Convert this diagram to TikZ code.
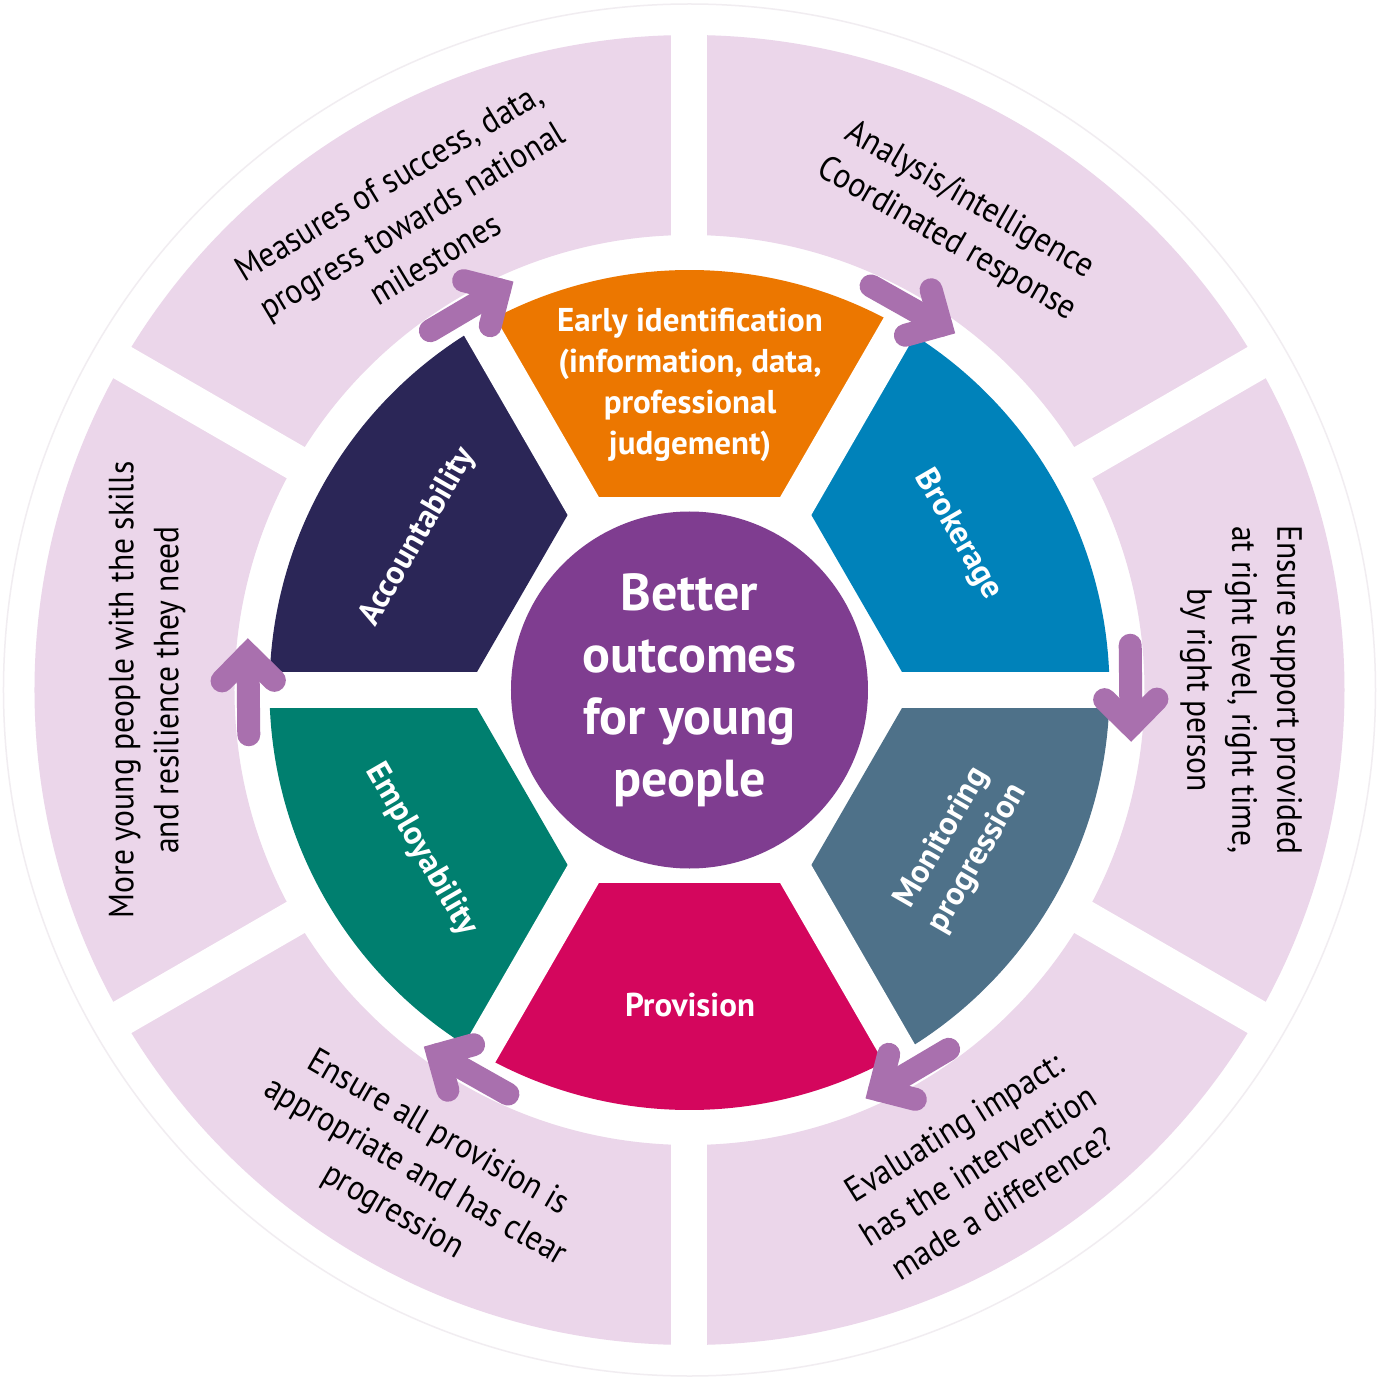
\documentclass[tikz,border=0pt]{standalone}
\usepackage{fontspec}
\setmainfont{PT Sans}[FakeStretch=0.9]
\newfontfamily\heavy{PT Sans}
\usetikzlibrary{calc}
\definecolor{cPink}{HTML}{EBD6EA}
\definecolor{cOrange}{HTML}{EC7700}
\definecolor{cBlue}{HTML}{0082BA}
\definecolor{cSlate}{HTML}{4E7189}
\definecolor{cMagenta}{HTML}{D4065D}
\definecolor{cTeal}{HTML}{007F6F}
\definecolor{cNavy}{HTML}{2B2657}
\definecolor{cPurple}{HTML}{7F3D90}
\definecolor{cArrow}{HTML}{A970AE}
\definecolor{cFaint}{HTML}{F1EDF1}
\begin{document}
\begin{tikzpicture}[x=1pt,y=1pt,
  outertext/.style={align=center, font=\fontsize{35}{45}\selectfont, text=black, inner sep=0pt},
  innertext/.style={align=center, font=\heavy\bfseries\fontsize{33}{41}\selectfont, text=white, inner sep=0pt},
  gapline/.style={white, line width=36pt},
  arrowpath/.style={draw=cArrow, line width=23pt, line cap=round, line join=miter}
]
\useasboundingbox (-689.5,-700) rectangle (689.5,690);
\fill[white] (-689.5,-700) rectangle (689.5,690);
% faint outer circle
\draw[cFaint, line width=1.5pt] (0,0) circle[radius=686];
% outer pink ring
\fill[cPink, even odd rule] (0,0) circle[radius=655] (0,0) circle[radius=455];
\foreach \a in {30,90,...,330} \draw[gapline] (\a:445) -- (\a:665);
% inner coloured ring
\foreach \a/\c in {0/cBlue,60/cOrange,120/cNavy,180/cTeal,240/cMagenta,300/cSlate}
  \fill[\c] (\a:222.9) -- (\a:420) arc[start angle=\a, end angle=\a+60, radius=420] -- (\a+60:222.9) -- cycle;
\foreach \a in {0,60,...,300} \draw[gapline] (\a:170) -- (\a:440);
% centre
\fill[cPurple] (0,0) circle[radius=178.5];
\node[align=center, font=\heavy\bfseries\fontsize{52}{62}\selectfont, text=white, inner sep=0pt] (core) at (0,0) {Better\\outcomes\\for young\\people};
% arrows
\foreach \t [count=\i] in {120,60,0,-60,-120,180} {
  \coordinate (tail\i) at (\t+5.8:443);
  \coordinate (tip\i) at (\t-4.6:443);
  \draw[arrowpath] (tail\i) -- (tip\i);
  \draw[arrowpath] ($(tip\i)!37pt!45:(tail\i)$) -- (tip\i) -- ($(tip\i)!37pt!-45:(tail\i)$);
}
% inner texts
\node[innertext] (early) at (0.5,305) {Early identification\\(information, data,\\professional\\judgement)};
\node[innertext, rotate=-60] (broker) at (268.5,155) {Brokerage};
\node[innertext, rotate=60] (monitor) at (270.5,-158) {Monitoring\\progression};
\node[innertext] (provision) at (0.5,-315) {Provision};
\node[innertext, rotate=-60] (employ) at (-268.5,-160) {Employability};
\node[innertext, rotate=60] (account) at (-271.5,153) {Accountability};
% outer texts
\node[outertext, rotate=31] (measures) at (-278,470) {Measures of success, data,\\progress towards national\\milestones};
\node[outertext, rotate=-30] (analysis) at (268.5,470) {Analysis/intelligence\\Coordinated response};
\node[outertext, rotate=-90] (support) at (551.5,0) {Ensure support provided\\at right level, right time,\\by right person};
\node[outertext, rotate=32] (impact) at (288.5,-475) {Evaluating impact:\\has the intervention\\made a difference?};
\node[outertext, rotate=-30] (provide) at (-274.5,-483) {Ensure all provision is\\appropriate and has clear\\progression};
\node[outertext, rotate=90] (skills) at (-542.5,0) {More young people with the skills\\and resilience they need};
\end{tikzpicture}
\end{document}
